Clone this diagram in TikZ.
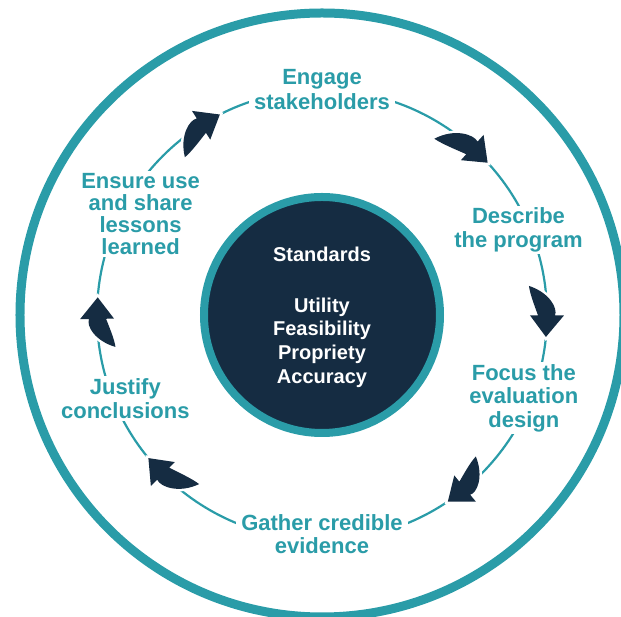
\documentclass[tikz,border=0pt]{standalone}
\usepackage{fontspec}
\setmainfont{Liberation Sans}
\usepackage{tikz}

\definecolor{ringteal}{HTML}{2A9CA8}
\definecolor{deepnavy}{HTML}{152C42}

\tikzset{
  steplabel/.style={text=ringteal, fill=white, align=center, inner xsep=5pt, inner ysep=2pt,
    font=\bfseries\fontsize{22}{23.5}\selectfont},
  cyclearrow/.style={fill=deepnavy, preaction={draw=white, line width=5pt}},
}

\begin{document}
\begin{tikzpicture}[x=1pt,y=1pt]
	\useasboundingbox (-322,-302) rectangle (299,315);
	% outer ring and step cycle
	\draw[ringteal, line width=9pt] (0,0) circle (302);
	\draw[ringteal, line width=2.2pt] (0,0) circle (225);
	% steps
	\node[steplabel, font=\bfseries\fontsize{22}{25}\selectfont] (engage) at (0,225.7) {Engage\\stakeholders};
	\node[steplabel] (describe) at (196.5,85.3) {Describe\\the program};
	\node[steplabel] (focus) at (201.8,-83.3) {Focus the\\evaluation\\design};
	\node[steplabel] (gather) at (0,-219.3) {Gather credible\\evidence};
	\node[steplabel, font=\bfseries\fontsize{22}{24.5}\selectfont] (justify) at (-196.7,-83.4) {Justify\\conclusions};
	\node[steplabel, font=\bfseries\fontsize{22}{22.2}\selectfont] (ensure) at (-181.4,100.8) {Ensure use\\and share\\lessons\\learned};
	% arrows between the steps (tail angle / tip angle)
	\foreach \tail/\tip in {131/117, 57.5/42.6, 8/-5.6, -42.6/-56, -126/-140.5, 188.8/175.5} {
		\pgfmathsetmacro\base{\tip+5.5}
		\pgfmathsetmacro\ca{\tail-0.3*(\tail-\base)}
		\pgfmathsetmacro\cb{\tail-0.8*(\tail-\base)}
		\path[cyclearrow] (\tail:209) .. controls (\ca:229) and (\cb:236) .. (\base:233)
			-- (\base:242) -- (\tip:225) -- (\base:208) -- (\base:216)
			.. controls (\cb:214) and (\ca:209) .. cycle;
	}
	% standards in the middle
	\node[circle, fill=deepnavy, draw=ringteal, line width=8pt, minimum size=236pt] (core) at (0,0) {};
	\node[text=white, align=center, font=\bfseries\fontsize{20}{23.7}\selectfont] (standards) at (0,-2.3)
		{Standards\\[27pt]Utility\\Feasibility\\Propriety\\Accuracy};
\end{tikzpicture}
\end{document}
